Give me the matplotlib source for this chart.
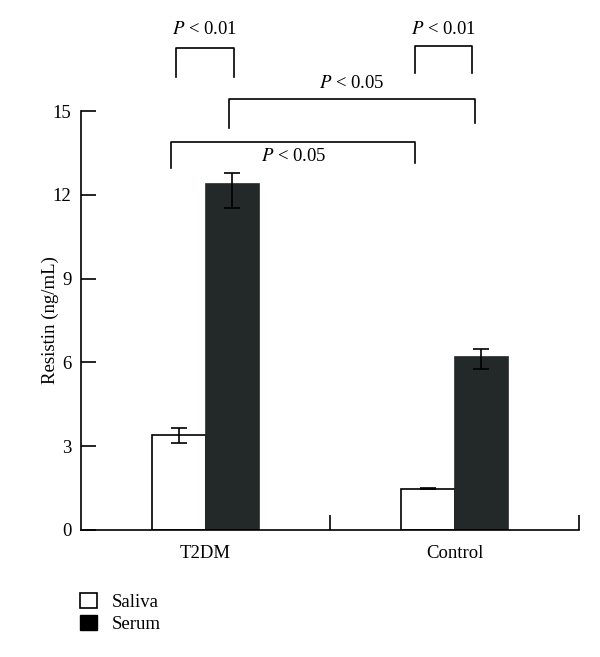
import numpy as np
import matplotlib.pyplot as plt
from matplotlib.patches import Patch

groups = ['T2DM', 'Control']
saliva = [3.40, 1.48]
serum = [12.39, 6.19]
saliva_err = [[0.29, 0.03], [0.25, 0.04]]   # lower, upper
serum_err = [[0.86, 0.43], [0.39, 0.29]]

plt.rcParams['font.family'] = ['Liberation Serif', 'DejaVu Serif']
plt.rcParams['mathtext.fontset'] = 'stix'
plt.rcParams['font.size'] = 13.5

fig = plt.figure(figsize=(6, 6.57), dpi=100)
ax = fig.add_axes([81 / 600, 127 / 657, 498 / 600, 419 / 657])

x = np.arange(len(groups))
w = 0.216
ax.bar(x - w / 2, saliva, w, color='white', edgecolor='black', linewidth=1.2)
ax.bar(x + w / 2, serum, w, color='#232828', edgecolor='#232828', linewidth=1.2)
ax.errorbar(x - w / 2, saliva, yerr=saliva_err, fmt='none', ecolor='black',
            elinewidth=1.2, capsize=5.5, capthick=1.2)
ax.errorbar(x + w / 2, serum, yerr=serum_err, fmt='none', ecolor='black',
            elinewidth=1.2, capsize=5.5, capthick=1.2)

ax.set_xlim(-0.5, 1.5)
ax.set_ylim(0, 15)
ax.set_yticks([0, 3, 6, 9, 12, 15])
ax.set_xticks([0.5, 1.5])
ax.set_xticklabels(['', ''])
ax.tick_params(axis='both', direction='in', length=11, width=1.2)
ax.tick_params(axis='y', pad=7)
for i, g in enumerate(groups):
    ax.text(i, -0.55, g, ha='center', va='top')
ax.set_ylabel('Resistin (ng/mL)')
ax.yaxis.set_label_coords(-0.044, 0.5)
ax.spines['top'].set_visible(False)
ax.spines['right'].set_visible(False)
ax.spines['left'].set_linewidth(1.2)
ax.spines['bottom'].set_linewidth(1.2)


def bracket(x1, x2, ytop, yb1, yb2, label, ytext):
    ax.plot([x1, x1, x2, x2], [yb1, ytop, ytop, yb2], color='black',
            lw=1.2, clip_on=False)
    ax.text((x1 + x2) / 2, ytext, '$P$ < ' + label, ha='center',
            va='center', clip_on=False)


def px(v):  # horizontal pixel -> data
    return (v - 205) / 248


def py(v):  # vertical pixel -> data
    return (530 - v) / 419 * 15


bracket(px(176), px(233), py(48), py(77), py(77), '0.01', py(30))
bracket(px(414), px(470), py(46), py(73), py(73), '0.01', py(30))
bracket(px(228), px(473), py(99), py(128), py(123), '0.05', py(84))
bracket(px(171), px(414), py(142), py(168), py(163), '0.05', py(157))

handles = [Patch(facecolor='white', edgecolor='black', linewidth=1.2),
           Patch(facecolor='black', edgecolor='black')]
fig.legend(handles, ['Saliva', 'Serum'], loc='upper left',
           bbox_to_anchor=(63 / 600, 1 - 576 / 657), frameon=False,
           handlelength=0.9, handleheight=0.9, handletextpad=0.8,
           labelspacing=0.2)

fig.savefig('out.png', dpi=100)
